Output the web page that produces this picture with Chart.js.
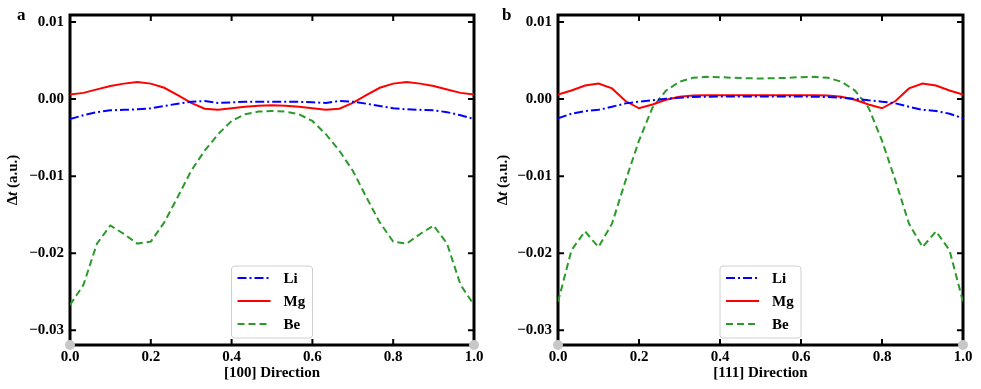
<!DOCTYPE html>
<html>
<head>
<meta charset="utf-8">
<script src="https://cdn.jsdelivr.net/npm/chart.js@4.4.0/dist/chart.umd.min.js"></script>
<style>
html, body { margin: 0; padding: 0; background: #fff; }
#wrap { position: relative; width: 981px; height: 389px; }
canvas { position: absolute; top: 0; }
#panelA { left: 0; }
#panelB { left: 490px; }
</style>
</head>
<body>
<div id="wrap">
  <canvas id="panelA" width="490" height="389"></canvas>
  <canvas id="panelB" width="491" height="389"></canvas>
</div>
<script>
// --- data ---
const xPos = [0, 0.0333, 0.0667, 0.1, 0.1333, 0.1667, 0.2, 0.2333, 0.2667, 0.3, 0.3333,
  0.3667, 0.4, 0.4333, 0.4667, 0.5, 0.5333, 0.5667, 0.6, 0.6333, 0.6667,
  0.7, 0.7333, 0.7667, 0.8, 0.8333, 0.8667, 0.9, 0.9333, 0.9667, 1];

const xTicks = [0, 0.2, 0.4, 0.6, 0.8, 1.0];
const xTickLabels = ['0.0', '0.2', '0.4', '0.6', '0.8', '1.0'];
const yTicks = [-0.03, -0.02, -0.01, 0, 0.01];
const yTickLabels = ['\u22120.03', '\u22120.02', '\u22120.01', '0.00', '0.01'];
const yMin = -0.0319, yMax = 0.0109;
const cornerDots = [0, 1];
const seriesNames = ['Li', 'Mg', 'Be'];

// panel a : [100]
const liA = [-0.0026, -0.0021, -0.0017, -0.00146, -0.0014, -0.00133, -0.0012, -0.0009, -0.0006, -0.00034, -0.00026,
  -0.0005, -0.00043, -0.00036, -0.00034, -0.00035, -0.00034, -0.00036, -0.00043, -0.0005, -0.00026,
  -0.00034, -0.0006, -0.0009, -0.0012, -0.00133, -0.0014, -0.00146, -0.0017, -0.0021, -0.0026];
const mgA = [0.0006, 0.0008, 0.00125, 0.00168, 0.002, 0.0022, 0.002, 0.00146, 0.0005, -0.0005, -0.00125,
  -0.0014, -0.0012, -0.001, -0.00086, -0.0008, -0.00086, -0.001, -0.0012, -0.0014, -0.00125,
  -0.0005, 0.0005, 0.00146, 0.002, 0.0022, 0.002, 0.00168, 0.00125, 0.0008, 0.0006];
const beA = [-0.0267, -0.0241, -0.01875, -0.0164, -0.0175, -0.01875, -0.0185, -0.016, -0.0127, -0.0093, -0.0067,
  -0.00456, -0.00284, -0.00198, -0.00163, -0.00155, -0.00163, -0.00198, -0.00284, -0.00456, -0.0067,
  -0.0093, -0.0127, -0.016, -0.0185, -0.01875, -0.0175, -0.0164, -0.01875, -0.0241, -0.0267];

// panel b : [111]
const liB = [-0.0025, -0.0019, -0.00155, -0.0014, -0.001, -0.00056, -0.00034, -0.00017, 0.00004, 0.00017, 0.00026,
  0.0003, 0.00034, 0.00034, 0.00034, 0.00034, 0.00034, 0.00034, 0.00034, 0.0003, 0.00026,
  0.00017, 0.00004, -0.00017, -0.00034, -0.00056, -0.001, -0.0014, -0.00155, -0.0019, -0.0025];
const mgB = [0.0006, 0.0011, 0.00176, 0.002, 0.00138, -0.00026, -0.0012, -0.0007, -0.0001, 0.0003, 0.00047,
  0.0005, 0.0005, 0.0005, 0.0005, 0.0005, 0.0005, 0.0005, 0.0005, 0.0005, 0.00047,
  0.0003, -0.0001, -0.0007, -0.0012, -0.00026, 0.00138, 0.002, 0.00176, 0.0011, 0.0006];
const beB = [-0.0263, -0.0196, -0.01716, -0.0192, -0.01617, -0.0106, -0.0054, -0.0011, 0.0011, 0.00224, 0.00275,
  0.00288, 0.00284, 0.00275, 0.0027, 0.00267, 0.0027, 0.00275, 0.00284, 0.00288, 0.00275,
  0.00224, 0.0011, -0.0011, -0.0054, -0.0106, -0.01617, -0.0192, -0.01716, -0.0196, -0.0263];

// --- styling ---
const FONT = "'Liberation Serif', 'Times New Roman', serif";
Chart.defaults.font.family = FONT;
Chart.defaults.font.size = 15;
Chart.defaults.font.weight = 'bold';
Chart.defaults.color = '#000';

const lineStyles = [
  { color: '#0000ff', dash: [9, 3, 2, 3] },
  { color: '#ff0000', dash: [] },
  { color: '#2a9a2a', dash: [7, 4] }
];

// box round the plot + inward ticks on all four sides
const framePlugin = {
  id: 'frame',
  beforeDatasetsDraw(chart) {
    const { ctx, chartArea: a, scales: { x, y } } = chart;
    ctx.save();
    ctx.strokeStyle = '#000';
    ctx.lineWidth = 2;
    ctx.beginPath();
    xTicks.forEach(v => {
      const px = x.getPixelForValue(v);
      ctx.moveTo(px, a.bottom); ctx.lineTo(px, a.bottom - 6);
      ctx.moveTo(px, a.top); ctx.lineTo(px, a.top + 6);
    });
    yTicks.forEach(v => {
      const py = y.getPixelForValue(v);
      ctx.moveTo(a.left, py); ctx.lineTo(a.left + 6, py);
      ctx.moveTo(a.right, py); ctx.lineTo(a.right - 6, py);
    });
    ctx.stroke();
    ctx.lineWidth = 3;
    ctx.strokeRect(a.left, a.top, a.right - a.left, a.bottom - a.top);
    ctx.restore();
  }
};

// legend box, rotated y title, panel letter
const decoPlugin = {
  id: 'deco',
  afterDraw(chart, args, opts) {
    const { ctx, chartArea: a } = chart;
    ctx.save();
    ctx.fillStyle = '#000';

    // panel letter
    ctx.font = 'bold 17px ' + FONT;
    ctx.textAlign = 'left';
    ctx.textBaseline = 'alphabetic';
    ctx.fillText(opts.letter, opts.letterX, 20);

    // y title: Δt (a.u.) with italic t
    ctx.save();
    ctx.translate(13, (a.top + a.bottom) / 2);
    ctx.rotate(-Math.PI / 2);
    const parts = [['\u0394', 'bold 15px ' + FONT], ['t', 'italic bold 15px ' + FONT], [' (a.u.)', 'bold 15px ' + FONT]];
    let total = 0;
    parts.forEach(p => { ctx.font = p[1]; total += ctx.measureText(p[0]).width; });
    let cx = -total / 2;
    ctx.textBaseline = 'middle';
    parts.forEach(p => { ctx.font = p[1]; ctx.fillText(p[0], cx, 0); cx += ctx.measureText(p[0]).width; });
    ctx.restore();

    // legend
    const w = 81, h = 72;
    const bx = (a.left + a.right) / 2 - w / 2;
    const by = a.bottom - 7 - h;
    ctx.beginPath();
    ctx.roundRect(bx, by, w, h, 3);
    ctx.fillStyle = 'rgba(255,255,255,0.9)';
    ctx.fill();
    ctx.strokeStyle = '#d0d0d0';
    ctx.lineWidth = 1;
    ctx.stroke();
    seriesNames.forEach((name, i) => {
      const ds = chart.data.datasets[i];
      const ry = by + 12 + i * 23;
      ctx.beginPath();
      ctx.setLineDash(ds.borderDash || []);
      ctx.strokeStyle = ds.borderColor;
      ctx.lineWidth = 2;
      ctx.moveTo(bx + 6, ry);
      ctx.lineTo(bx + 39, ry);
      ctx.stroke();
      ctx.setLineDash([]);
      ctx.fillStyle = '#000';
      ctx.font = 'bold 15px ' + FONT;
      ctx.textAlign = 'left';
      ctx.textBaseline = 'middle';
      ctx.fillText(name, bx + 52, ry + 1);
    });
    ctx.restore();
  }
};

function makePanel(canvasId, xTitle, series, letter, letterX, yWidth, padRight) {
  const datasets = series.map((vals, i) => ({
    label: seriesNames[i],
    data: xPos.map((x, j) => ({ x: x, y: vals[j] })),
    borderColor: lineStyles[i].color,
    borderDash: lineStyles[i].dash,
    borderWidth: 2,
    pointRadius: 0,
    tension: 0,
    fill: false
  }));
  datasets.push({
    label: 'ends',
    data: cornerDots.map(x => ({ x: x, y: yMin })),
    showLine: false,
    pointRadius: 5,
    pointBackgroundColor: '#c8c8c8',
    pointBorderWidth: 0,
    clip: false
  });

  return new Chart(document.getElementById(canvasId), {
    type: 'line',
    data: { datasets },
    options: {
      responsive: false,
      animation: false,
      layout: { padding: { top: 14, right: padRight, bottom: 0, left: 0 } },
      plugins: {
        legend: { display: false },
        tooltip: { enabled: false },
        deco: { letter, letterX }
      },
      scales: {
        x: {
          type: 'linear', min: 0, max: 1,
          grid: { display: false, drawTicks: false },
          border: { display: false },
          afterBuildTicks: s => { s.ticks = xTicks.map(v => ({ value: v })); },
          afterFit: s => { s.height = 44; },
          ticks: { autoSkip: false, maxRotation: 0, padding: 3, callback: (v, i) => xTickLabels[i] },
          title: { display: true, text: xTitle, font: { size: 15, weight: 'bold' }, padding: { top: 0, bottom: 7 } }
        },
        y: {
          type: 'linear', min: yMin, max: yMax,
          grid: { display: false, drawTicks: false },
          border: { display: false },
          afterBuildTicks: s => { s.ticks = yTicks.map(v => ({ value: v })); },
          afterFit: s => { s.width = yWidth; },
          ticks: { autoSkip: false, padding: 6, callback: (v, i) => yTickLabels[i] }
        }
      }
    },
    plugins: [framePlugin, decoPlugin]
  });
}

makePanel('panelA', '[100] Direction', [liA, mgA, beA], 'a', 17, 70, 16);
makePanel('panelB', '[111] Direction', [liB, mgB, beB], 'b', 12, 68, 18);
</script>
</body>
</html>
